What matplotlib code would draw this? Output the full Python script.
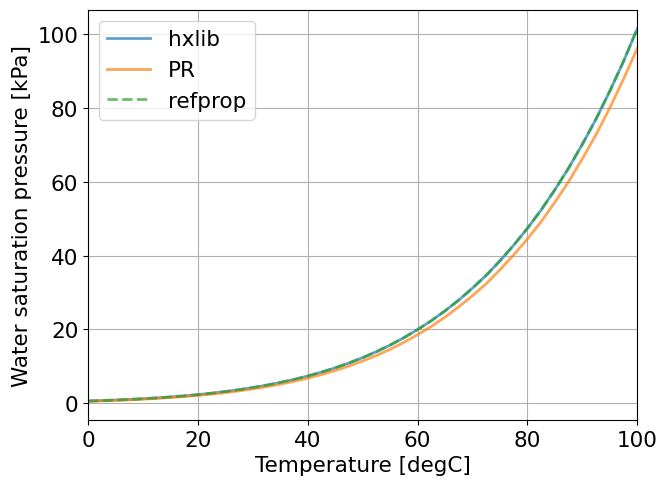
import matplotlib
matplotlib.use("Agg")
import matplotlib.pyplot as plt

temperature = [0, 2.5, 5, 7.5, 10, 12.5, 15, 17.5, 20, 22.5, 25, 27.5, 30, 32.5, 35, 37.5,
               40, 42.5, 45, 47.5, 50, 52.5, 55, 57.5, 60, 62.5, 65, 67.5, 70, 72.5, 75,
               77.5, 80, 82.5, 85, 87.5, 90, 92.5, 95, 97.5, 100]
hxlib = [0.611, 0.731, 0.873, 1.037, 1.228, 1.450, 1.706, 2.001, 2.339, 2.727, 3.170,
         3.674, 4.247, 4.895, 5.629, 6.455, 7.384, 8.427, 9.594, 10.90, 12.35, 13.97,
         15.76, 17.75, 19.95, 22.36, 25.02, 27.94, 31.18, 34.66, 38.58, 42.80, 47.39,
         52.35, 57.83, 63.70, 70.14, 77.00, 84.53, 92.60, 101.42]
pr = [0.55, 0.66, 0.79, 0.94, 1.11, 1.31, 1.55, 1.82, 2.13, 2.48, 2.90, 3.36, 3.89,
      4.49, 5.17, 5.94, 6.80, 7.77, 8.86, 10.08, 11.43, 12.94, 14.62, 16.48, 18.55,
      20.82, 23.34, 26.10, 29.15, 32.38, 36.15, 40.18, 44.50, 49.18, 54.45, 60.05,
      66.2, 72.75, 80.0, 87.8, 96.1]
refprop = [0.611, 0.731, 0.873, 1.037, 1.228, 1.450, 1.706, 2.001, 2.339, 2.727, 3.170,
           3.674, 4.247, 4.895, 5.629, 6.455, 7.384, 8.427, 9.594, 10.90, 12.35, 13.97,
           15.76, 17.75, 19.95, 22.36, 25.02, 27.94, 31.18, 34.66, 38.58, 42.80, 47.39,
           52.35, 57.83, 63.70, 70.14, 77.00, 84.53, 92.60, 101.42]

plt.rcParams['font.size'] = 15.5
fig = plt.figure(figsize=(6.57, 4.81), dpi=100)
ax = fig.add_axes([0.134, 0.125, 0.836, 0.852])
ax.plot(temperature, hxlib, color='#1f77b4', lw=2, alpha=0.7, label='hxlib')
ax.plot(temperature, pr, color='#ff7f0e', lw=2, alpha=0.7, label='PR')
ax.plot(temperature, refprop, color='#2ca02c', lw=2, alpha=0.7, ls='--', label='refprop')
ax.set_xlim(0, 100)
ax.set_xlabel('Temperature [degC]')
ax.set_ylabel('Water saturation pressure [kPa]')
ax.grid(True)
ax.legend(loc='upper left')
fig.savefig('out.png', dpi=100)
